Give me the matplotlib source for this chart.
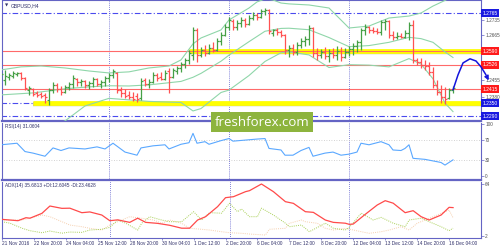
import matplotlib
matplotlib.use('Agg')
import matplotlib.pyplot as plt
import numpy as np
from matplotlib.patches import Rectangle

plt.rcParams['font.family'] = ['Liberation Sans', 'DejaVu Sans']

# GBPUSD H4, one bar per 4 hours, bar 0 = 21 Nov 12:00
opens = [
    1.2466, 1.2457, 1.2471, 1.2475, 1.2485, 1.2489, 1.2466, 1.2411, 1.2416, 1.2397,
    1.2393, 1.2388, 1.2365, 1.2411, 1.2434, 1.2416, 1.2402, 1.2425, 1.2439, 1.2462,
    1.2448, 1.2452, 1.2434, 1.2443, 1.2462, 1.2439, 1.2448, 1.2466, 1.2480, 1.2489,
    1.2411, 1.2397, 1.2388, 1.2379, 1.2383, 1.2374, 1.2457, 1.2439, 1.2448, 1.2480,
    1.2471, 1.2462, 1.2498, 1.2471, 1.2498, 1.2512, 1.2531, 1.2549, 1.2572, 1.2687,
    1.2572, 1.2595, 1.2581, 1.2604, 1.2595, 1.2636, 1.2664, 1.2701, 1.2728, 1.2701,
    1.2719, 1.2733, 1.2715, 1.2742, 1.2756, 1.2747, 1.2774, 1.2779, 1.2673, 1.2687,
    1.2678, 1.2664, 1.2595, 1.2604, 1.2586, 1.2618, 1.2636, 1.2646, 1.2696, 1.2581,
    1.2572, 1.2586, 1.2567, 1.2581, 1.2572, 1.2590, 1.2563, 1.2586, 1.2600, 1.2613,
    1.2632, 1.2687, 1.2701, 1.2687, 1.2682, 1.2678, 1.2724, 1.2728, 1.2664, 1.2655,
    1.2659, 1.2655, 1.2673, 1.2710, 1.2549, 1.2540, 1.2526, 1.2521, 1.2494, 1.2434,
    1.2402, 1.2379, 1.2374, 1.2411]
highs = [
    1.2494, 1.2503, 1.2489, 1.2498, 1.2494, 1.2494, 1.2471, 1.2429, 1.2420, 1.2406,
    1.2402, 1.2397, 1.2420, 1.2448, 1.2443, 1.2429, 1.2434, 1.2448, 1.2480, 1.2466,
    1.2462, 1.2457, 1.2452, 1.2471, 1.2466, 1.2457, 1.2475, 1.2489, 1.2508, 1.2494,
    1.2425, 1.2416, 1.2406, 1.2402, 1.2397, 1.2466, 1.2466, 1.2462, 1.2494, 1.2489,
    1.2494, 1.2503, 1.2512, 1.2512, 1.2521, 1.2540, 1.2558, 1.2595, 1.2701, 1.2696,
    1.2609, 1.2618, 1.2623, 1.2632, 1.2650, 1.2678, 1.2715, 1.2747, 1.2738, 1.2733,
    1.2747, 1.2742, 1.2756, 1.2770, 1.2765, 1.2784, 1.2788, 1.2784, 1.2692, 1.2696,
    1.2687, 1.2669, 1.2618, 1.2623, 1.2632, 1.2650, 1.2659, 1.2710, 1.2701, 1.2604,
    1.2600, 1.2609, 1.2600, 1.2604, 1.2613, 1.2609, 1.2604, 1.2613, 1.2627, 1.2641,
    1.2696, 1.2715, 1.2705, 1.2701, 1.2696, 1.2733, 1.2738, 1.2733, 1.2682, 1.2678,
    1.2673, 1.2687, 1.2724, 1.2733, 1.2558, 1.2558, 1.2549, 1.2540, 1.2517, 1.2457,
    1.2434, 1.2425, 1.2420, 1.2429]
lows = [
    1.2457, 1.2434, 1.2457, 1.2466, 1.2475, 1.2457, 1.2411, 1.2388, 1.2383, 1.2379,
    1.2374, 1.2351, 1.2342, 1.2397, 1.2402, 1.2388, 1.2397, 1.2411, 1.2420, 1.2429,
    1.2429, 1.2420, 1.2416, 1.2425, 1.2429, 1.2420, 1.2429, 1.2448, 1.2466, 1.2397,
    1.2379, 1.2374, 1.2370, 1.2360, 1.2356, 1.2365, 1.2429, 1.2420, 1.2443, 1.2452,
    1.2457, 1.2457, 1.2397, 1.2466, 1.2485, 1.2494, 1.2512, 1.2531, 1.2549, 1.2540,
    1.2563, 1.2567, 1.2577, 1.2586, 1.2590, 1.2618, 1.2659, 1.2687, 1.2687, 1.2687,
    1.2701, 1.2701, 1.2710, 1.2733, 1.2733, 1.2742, 1.2756, 1.2669, 1.2659, 1.2664,
    1.2655, 1.2577, 1.2563, 1.2572, 1.2572, 1.2604, 1.2613, 1.2618, 1.2563, 1.2549,
    1.2558, 1.2554, 1.2540, 1.2558, 1.2549, 1.2544, 1.2558, 1.2567, 1.2572, 1.2586,
    1.2595, 1.2664, 1.2673, 1.2673, 1.2669, 1.2664, 1.2687, 1.2650, 1.2641, 1.2646,
    1.2650, 1.2650, 1.2641, 1.2535, 1.2526, 1.2512, 1.2503, 1.2480, 1.2420, 1.2388,
    1.2351, 1.2347, 1.2370, 1.2397]
closes = [
    1.2485, 1.2475, 1.2480, 1.2489, 1.2489, 1.2466, 1.2420, 1.2420, 1.2393, 1.2388,
    1.2383, 1.2379, 1.2411, 1.2434, 1.2416, 1.2402, 1.2425, 1.2439, 1.2466, 1.2448,
    1.2452, 1.2434, 1.2443, 1.2462, 1.2439, 1.2448, 1.2466, 1.2480, 1.2498, 1.2411,
    1.2397, 1.2383, 1.2379, 1.2370, 1.2370, 1.2452, 1.2439, 1.2448, 1.2480, 1.2466,
    1.2462, 1.2489, 1.2471, 1.2503, 1.2512, 1.2531, 1.2549, 1.2581, 1.2687, 1.2572,
    1.2595, 1.2581, 1.2604, 1.2595, 1.2636, 1.2664, 1.2701, 1.2733, 1.2701, 1.2719,
    1.2733, 1.2715, 1.2742, 1.2756, 1.2747, 1.2774, 1.2779, 1.2682, 1.2687, 1.2678,
    1.2664, 1.2595, 1.2604, 1.2586, 1.2618, 1.2636, 1.2646, 1.2696, 1.2581, 1.2572,
    1.2586, 1.2567, 1.2581, 1.2572, 1.2590, 1.2563, 1.2586, 1.2600, 1.2613, 1.2632,
    1.2687, 1.2701, 1.2687, 1.2682, 1.2678, 1.2724, 1.2728, 1.2664, 1.2655, 1.2659,
    1.2655, 1.2673, 1.2710, 1.2549, 1.2540, 1.2526, 1.2521, 1.2494, 1.2434, 1.2402,
    1.2379, 1.2370, 1.2411, 1.2420]

# bollinger bands (bar index, price)
bb_x = [0, 5, 10, 16, 22, 27, 32, 37, 42, 45, 48, 50, 55, 57, 62, 64, 66, 68, 70, 72,
        77, 82, 87, 92, 97, 102, 105, 108, 111, 113]
bb_upper = [1.2503, 1.2517, 1.2521, 1.2512, 1.2498, 1.2489, 1.2494, 1.2512, 1.2521, 1.2549,
            1.2623, 1.2650, 1.2687, 1.2733, 1.2788, 1.2816, 1.2830, 1.2825, 1.2811, 1.2807,
            1.2802, 1.2788, 1.2696, 1.2705, 1.2742, 1.2751, 1.2765, 1.2797, 1.2823, 1.2843]
mid_x = [0, 8, 16, 22, 27, 32, 37, 45, 48, 50, 55, 57, 62, 66, 70, 72, 77, 82, 87, 92,
         97, 102, 105, 108, 111, 113]
bb_mid = [1.2388, 1.2397, 1.2416, 1.2425, 1.2430, 1.2429, 1.2434, 1.2450, 1.2469, 1.2487,
          1.2543, 1.2571, 1.2633, 1.2681, 1.2694, 1.2695, 1.2688, 1.2652, 1.2610, 1.2615,
          1.2630, 1.2653, 1.2647, 1.2630, 1.2586, 1.2560]
low_x = [0, 10, 16, 21, 27, 32, 37, 45, 48, 50, 55, 57, 62, 66, 70, 72, 77, 82, 87, 92,
         97, 102, 105, 108, 111, 113]
bb_lower = [1.2204, 1.2227, 1.2268, 1.2337, 1.2372, 1.2365, 1.2358, 1.2353, 1.2314, 1.2325,
            1.2399, 1.2410, 1.2477, 1.2542, 1.2582, 1.2586, 1.2572, 1.2514, 1.2527, 1.2525,
            1.2517, 1.2555, 1.2530, 1.2462, 1.2350, 1.2311]

rsi_x = [0, 4, 6, 8, 11, 13, 15, 17, 21, 24, 26, 28, 31, 34, 35, 38, 41, 42, 45, 47,
         48, 49, 51, 52, 55, 57, 58, 61, 64, 66, 67, 70, 71, 73, 75, 77, 78, 81, 83, 85,
         87, 89, 90, 92, 95, 97, 98, 100, 101, 102, 103, 106, 108, 110, 111, 112, 113]
rsi = [60, 63, 47, 44, 38, 54, 49, 54, 52, 56, 52, 63, 46, 40, 54, 58, 60, 52, 61, 64,
       82, 63, 66, 61, 68, 72, 67, 69, 71, 72, 53, 50, 40, 40, 49, 55, 38, 44, 46, 40,
       42, 46, 63, 60, 66, 60, 50, 49, 53, 60, 34, 32, 29, 26, 21, 26, 31]

adx_x = [0, 4, 6, 7, 10, 12, 15, 17, 20, 22, 25, 27, 29, 32, 34, 36, 39, 42, 45, 47,
         49, 51, 54, 56, 58, 61, 62, 65, 68, 71, 73, 76, 78, 81, 83, 86, 87, 88, 91, 94,
         96, 98, 101, 103, 105, 107, 110, 112, 113]
adx = [21.6, 20, 23.6, 23, 28.8, 37.6, 34.8, 35, 29.6, 30.5, 26.8, 20, 21, 18, 23, 18, 16.8, 14.5, 11, 11,
       20.8, 24.8, 36.8, 47.6, 48.8, 54.8, 56, 64, 54.8, 42.8, 40.8, 30.8, 30, 20.8, 18, 17, 15.6, 16, 27.6, 38.8,
       44, 41, 29.6, 32, 24.8, 20.8, 26.8, 36, 35.7]
pdi_x = [0, 2, 5, 7, 10, 12, 15, 17, 20, 22, 25, 27, 29, 31, 34, 35, 37, 40, 42, 45,
         48, 50, 52, 55, 57, 59, 60, 62, 64, 65, 68, 71, 72, 75, 77, 81, 83, 86, 87, 90,
         93, 95, 98, 101, 102, 105, 107, 110, 112, 113]
pdi = [18.8, 17, 11, 8, 5.6, 7.6, 5, 6.4, 6, 8.8, 9.7, 12, 20.8, 17, 8.8, 17, 24.8, 20.8, 18.8, 18.8,
       30.8, 20.8, 29.6, 29, 40.9, 30.8, 34, 24.8, 24.8, 35, 26.8, 17, 12.8, 14.8, 6.8, 17, 11, 8.8, 12, 29,
       20.8, 24, 17, 12.8, 20.8, 23, 18.8, 12.8, 8, 11]
mdi_x = [0, 5, 7, 10, 12, 15, 17, 20, 22, 25, 27, 30, 32, 35, 38, 40, 42, 45, 47, 50,
         52, 55, 57, 60, 62, 66, 67, 71, 72, 75, 76, 79, 81, 83, 86, 90, 92, 95, 97, 100,
         102, 104, 106, 108, 111, 112, 113]
mdi = [20.8, 20.8, 23, 26.8, 24.8, 18.8, 14.8, 12.8, 10.9, 8.8, 14.8, 20.8, 24.8, 22.9, 20.8, 16.9, 20.8, 16.9, 10.9, 9.7,
       8.8, 6.8, 5.6, 4.9, 4, 2.8, 9.7, 10.9, 16.9, 20.8, 18.8, 16.9, 10.9, 8.8, 10.9, 6.8, 4.9, 6.8, 8.8, 12.8,
       8.8, 16.9, 20.8, 24.8, 30.8, 32.8, 23.5]

# drawn forecast path (bar index, price)
fc_x = [113, 114.25, 115.5, 117.25, 118.75, 120, 121.25, 122.25]
fc_y = [1.2411, 1.2480, 1.2535, 1.2554, 1.2544, 1.2517, 1.2480, 1.2443]

red_levels = [1.2590, 1.2526, 1.2415]
blue_levels = [1.2765, 1.2350, 1.2290]
yellow_levels = [1.2590, 1.2350]
yellow_start = [47, 8]
grey_ticks = [1.2735, 1.2665, 1.2455, 1.2380]
week_starts = [27, 57, 87]
tick_bars = list(range(0, 113, 8))
tick_labels = ['21 Nov 2016', '22 Nov 20:00', '24 Nov 04:00', '25 Nov 12:00', '28 Nov 20:00',
               '30 Nov 04:00', '1 Dec 12:00', '2 Dec 20:00', '6 Dec 04:00', '7 Dec 12:00',
               '8 Dec 20:00', '12 Dec 04:00', '13 Dec 12:00', '14 Dec 20:00', '16 Dec 04:00']

frame = '#6464c4'
green = '#46a046'
red = '#ff5252'
bbcol = '#8fd6a9'
txtcol = '#30306a'

fig = plt.figure(figsize=(5, 2.5), dpi=100)
ax = fig.add_axes([0.004, 0.516, 0.958, 0.484])
ax_r = fig.add_axes([0.004, 0.28, 0.958, 0.228])
ax_a = fig.add_axes([0.004, 0.048, 0.958, 0.224])

for a in (ax, ax_r, ax_a):
    a.set_xlim(0.25, 120)
    for s in a.spines.values():
        s.set_color(frame)
        s.set_linewidth(0.8)
    a.yaxis.tick_right()
    a.tick_params(axis='y', length=2, width=0.5, color=frame, labelsize=3.4,
                  labelcolor='#505050', pad=1)
    a.tick_params(axis='x', length=0)
    a.set_xticks([])
    a.vlines(week_starts, -10, 10, transform=a.get_xaxis_transform(), colors='#5a5acc',
             linestyles=(0, (1, 1.5)), lw=0.6, zorder=1)
ax.spines['bottom'].set_linewidth(1.6)
ax_r.spines['top'].set_visible(False)
ax_r.spines['bottom'].set_linewidth(1.6)
ax_a.spines['top'].set_visible(False)

# price panel
ax.set_ylim(1.22677, 1.28249)
idx = np.arange(len(closes))
o = np.array(opens); h = np.array(highs); l = np.array(lows); c = np.array(closes)
cols = np.where(c >= o, green, red)

ax.hlines(blue_levels, 0, 125, colors='#4a4aee', linestyles=(0, (5, 2, 1, 2)), lw=0.8, zorder=2)
for lv, st in zip(yellow_levels, yellow_start):
    ax.hlines(lv - 0.0004, st, 125, colors='#c8c8a0', lw=3.2, zorder=2)
    ax.hlines(lv, st, 125, colors='#ffff00', lw=3.4, zorder=2)
ax.hlines(red_levels, 0, 125, colors='#ff6a6a', lw=0.8, zorder=2)

ax.plot(bb_x, bb_upper, color=bbcol, lw=0.8, zorder=3)
ax.plot(mid_x, bb_mid, color=bbcol, lw=0.8, zorder=3)
ax.plot(low_x, bb_lower, color=bbcol, lw=0.8, zorder=3)

ax.vlines(idx, l, h, colors=cols, lw=0.9, zorder=4)
ax.hlines(o, idx - 0.45, idx, colors=cols, lw=0.9, zorder=4)
ax.hlines(c, idx, idx + 0.45, colors=cols, lw=0.9, zorder=4)

ax.set_yticks(grey_ticks)
ax.set_yticklabels([f'{v:.4f}' for v in grey_ticks])

for lv in red_levels:
    ax.text(1.003, lv, f'{lv:.4f}', transform=ax.get_yaxis_transform(), fontsize=3.6,
            color='white', va='center', ha='left', clip_on=False, zorder=6,
            bbox=dict(boxstyle='square,pad=0.25', fc='#ff1a1a', ec='none'))
for lv in blue_levels:
    ax.text(1.003, lv, f'{lv:.4f}', transform=ax.get_yaxis_transform(), fontsize=3.6,
            color='white', va='center', ha='left', clip_on=False, zorder=6,
            bbox=dict(boxstyle='square,pad=0.25', fc='#1a1ae0', ec='none'))

ax.plot(fc_x[:-1], fc_y[:-1], color='#1414dc', lw=1.1, clip_on=False, zorder=20,
        solid_capstyle='round')
ax.annotate('', xy=(fc_x[-1], fc_y[-1]), xytext=(fc_x[-2], fc_y[-2]),
            arrowprops=dict(arrowstyle='-|>', color='#1414dc', lw=1.1, mutation_scale=6),
            annotation_clip=False, zorder=20)

ax.text(0.006, 0.955, '\u25bc', transform=ax.transAxes, fontsize=3, color=txtcol,
        va='center', family=['DejaVu Sans'])
ax.text(0.018, 0.955, 'GBPUSD,H4', transform=ax.transAxes, fontsize=3.6, color=txtcol,
        va='center')

# RSI panel
ax_r.set_ylim(-7.7, 101.9)
ax_r.hlines([70, 30], 0, 125, colors='#c4c4c4', linestyles=(0, (1, 2)), lw=0.6, zorder=1)
ax_r.plot(rsi_x, rsi, color='#5aa8ff', lw=0.8, zorder=3)
ax_r.set_yticks([0, 30, 70, 100])
ax_r.set_yticklabels(['0', '30', '70', '100'])
ax_r.text(0.006, 0.947, 'RSI(14) 31.0604', transform=ax_r.transAxes, fontsize=3.4,
          color=txtcol, va='center')

# ADX panel
ax_a.set_ylim(-0.75, 66.4)
ax_a.plot(mdi_x, mdi, color='#f6cfae', lw=0.7, ls=(0, (1, 1.2)), zorder=2)
ax_a.plot(pdi_x, pdi, color='#a8cf55', lw=0.7, ls=(0, (1, 1.2)), zorder=2)
ax_a.plot(adx_x, adx, color='#ff4a4a', lw=0.9, zorder=3)
ax_a.set_yticks([2, 64])
ax_a.set_yticklabels(['2', '64'])
ax_a.text(0.006, 0.946, 'ADX(14) 35.6813 +DI:12.6045 -DI:23.4628', transform=ax_a.transAxes,
          fontsize=3.4, color=txtcol, va='center')

ax_a.set_xticks(tick_bars)
ax_a.set_xticklabels(tick_labels)
ax_a.tick_params(axis='x', length=1.5, width=0.5, color=frame, labelsize=3.4,
                 labelcolor=txtcol, pad=1)
for lab in ax_a.get_xticklabels():
    lab.set_ha('left')

# watermark
fig.patches.append(Rectangle((211 / 500, 1 - 132 / 250), 102 / 500, 20 / 250,
                             transform=fig.transFigure, fc='#8db43e', ec='none', zorder=30))
fig.text(262 / 500, 1 - 122.5 / 250, 'freshforex.com', fontsize=9.5, color='white',
         ha='center', va='center', family=['Open Sans', 'DejaVu Sans'], zorder=31)

fig.savefig('out.png', dpi=100, facecolor='white')
